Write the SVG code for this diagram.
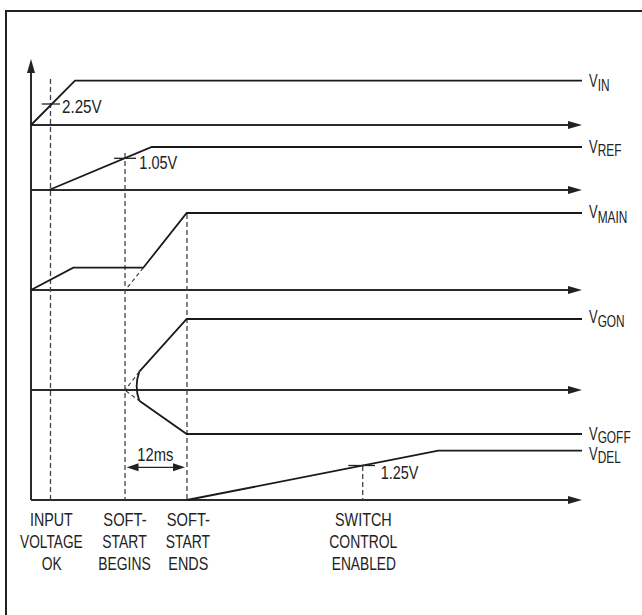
<svg xmlns="http://www.w3.org/2000/svg" width="642" height="615" viewBox="0 0 642 615">
<defs>
<marker id="ah" markerUnits="userSpaceOnUse" markerWidth="14" markerHeight="9" viewBox="0 0 14 9" refX="10" refY="4.5" orient="auto-start-reverse"><path d="M0,0.5 L14,4.5 L0,8.5 z" fill="#222"/></marker>
<marker id="ah2" markerUnits="userSpaceOnUse" markerWidth="12" markerHeight="9" viewBox="0 0 12 9" refX="9" refY="4.5" orient="auto-start-reverse"><path d="M0,0.5 L12,4.5 L0,8.5 z" fill="#222"/></marker>
</defs>
<style>
.frame{fill:none;stroke:#222;stroke-width:2}
.axis{fill:none;stroke:#2a2a2a;stroke-width:2}
.sig{fill:none;stroke:#1a1a1a;stroke-width:1.8;stroke-linejoin:miter}
.dash{fill:none;stroke:#444;stroke-width:1.3;stroke-dasharray:5 3}
.sdash{fill:none;stroke:#333;stroke-width:1.1;stroke-dasharray:4 3}
.tick{fill:none;stroke:#222;stroke-width:1.3}
text{font-family:"Liberation Sans",Arial,sans-serif;fill:#222}
.val{font-size:18px}
.lbl{font-size:18.5px}
.sub{font-size:17px}
</style>
<rect width="642" height="615" fill="#fff"/>
<path class="frame" d="M6,615 V11 H642"/>

<g id="connectors">
<line class="axis" x1="31" y1="500" x2="31" y2="63" marker-end="url(#ah)"/>
<line class="axis" x1="31" y1="125" x2="578" y2="125" marker-end="url(#ah)"/>
<line class="axis" x1="31" y1="190" x2="578" y2="190" marker-end="url(#ah)"/>
<line class="axis" x1="31" y1="290" x2="578" y2="290" marker-end="url(#ah)"/>
<line class="axis" x1="31" y1="390" x2="578" y2="390" marker-end="url(#ah)"/>
<line class="axis" x1="31" y1="500" x2="578" y2="500" marker-end="url(#ah)"/>
<line class="dash" x1="50.5" y1="79" x2="50.5" y2="500"/>
<line class="dash" x1="125" y1="153" x2="125" y2="500"/>
<line class="dash" x1="187" y1="214" x2="187" y2="500"/>
<line class="dash" x1="362.7" y1="466" x2="362.7" y2="500"/>
<line class="tick" x1="129.5" y1="467.3" x2="182" y2="467.3" marker-start="url(#ah2)" marker-end="url(#ah2)"/>
</g>

<g id="vin">
<polyline class="sig" points="31,125 75,80.7 582,80.7"/>
<line class="tick" x1="41.7" y1="104" x2="60" y2="104"/>
<text class="val" x="62" y="112.7" textLength="39.7" lengthAdjust="spacingAndGlyphs">2.25V</text>
<text transform="translate(589,87.3) scale(0.7,1)" style="font-size:18.5px">V<tspan class="sub" dy="4">IN</tspan></text>
</g>

<g id="vref">
<polyline class="sig" points="49,190 151.7,147 582,147"/>
<line class="tick" x1="114" y1="158.3" x2="136" y2="158.3"/>
<text class="val" x="139.3" y="168.5" textLength="38" lengthAdjust="spacingAndGlyphs">1.05V</text>
<text transform="translate(589,152.7) scale(0.7,1)" style="font-size:18.5px">V<tspan class="sub" dy="3.5">REF</tspan></text>
</g>

<g id="vmain">
<polyline class="sig" points="31,290 73.3,267.7 143.3,267.7 186.7,213 582,213"/>
<line class="sdash" x1="143.3" y1="267.7" x2="125" y2="290.5"/>
<text transform="translate(589,218.3) scale(0.7,1)" style="font-size:18.5px">V<tspan class="sub" dy="4.5">MAIN</tspan></text>
</g>

<g id="vgon">
<polyline class="sig" points="139.3,371.7 186.7,319 582,319"/>
<path class="sig" d="M139.3,371.7 Q134,386 139.3,400.7"/>
<line class="sdash" x1="139.3" y1="371.7" x2="125" y2="390"/>
<text transform="translate(589,323.3) scale(0.7,1)" style="font-size:18.5px">V<tspan class="sub" dy="3.5">GON</tspan></text>
</g>

<g id="vgoff">
<polyline class="sig" points="139.3,400.7 186.7,434 582,434"/>
<line class="sdash" x1="126" y1="391" x2="139.3" y2="400.7"/>
<text transform="translate(589,440) scale(0.7,1)" style="font-size:18.5px">V<tspan class="sub" dy="3">GOFF</tspan></text>
</g>

<g id="vdel">
<polyline class="sig" points="187,500 438.3,450.7 582,450.7"/>
<line class="tick" x1="348.3" y1="465.5" x2="375" y2="465.5"/>
<text class="val" x="380.7" y="479.3" textLength="37.7" lengthAdjust="spacingAndGlyphs">1.25V</text>
<text transform="translate(589,460) scale(0.7,1)" style="font-size:18.5px">V<tspan class="sub" dy="2.5">DEL</tspan></text>
</g>

<g id="t12ms">
<text class="val" x="137.3" y="460.7" textLength="36" lengthAdjust="spacingAndGlyphs">12ms</text>
</g>

<g id="lbl-input">
<text class="lbl" x="30" y="526" textLength="42.7" lengthAdjust="spacingAndGlyphs">INPUT</text>
<text class="lbl" x="20" y="548" textLength="62.7" lengthAdjust="spacingAndGlyphs">VOLTAGE</text>
<text class="lbl" x="41.7" y="569.5" textLength="20" lengthAdjust="spacingAndGlyphs">OK</text>
</g>
<g id="lbl-ssbegins">
<text class="lbl" x="103.3" y="526" textLength="43.4" lengthAdjust="spacingAndGlyphs">SOFT-</text>
<text class="lbl" x="102.3" y="548" textLength="44.4" lengthAdjust="spacingAndGlyphs">START</text>
<text class="lbl" x="98.3" y="569.5" textLength="52.4" lengthAdjust="spacingAndGlyphs">BEGINS</text>
</g>
<g id="lbl-ssends">
<text class="lbl" x="166.7" y="526" textLength="43.3" lengthAdjust="spacingAndGlyphs">SOFT-</text>
<text class="lbl" x="165.7" y="548" textLength="44.3" lengthAdjust="spacingAndGlyphs">START</text>
<text class="lbl" x="168.3" y="569.5" textLength="40" lengthAdjust="spacingAndGlyphs">ENDS</text>
</g>
<g id="lbl-switch">
<text class="lbl" x="335" y="526" textLength="56.7" lengthAdjust="spacingAndGlyphs">SWITCH</text>
<text class="lbl" x="329.3" y="548" textLength="68" lengthAdjust="spacingAndGlyphs">CONTROL</text>
<text class="lbl" x="331.7" y="569.5" textLength="64.3" lengthAdjust="spacingAndGlyphs">ENABLED</text>
</g>
</svg>
